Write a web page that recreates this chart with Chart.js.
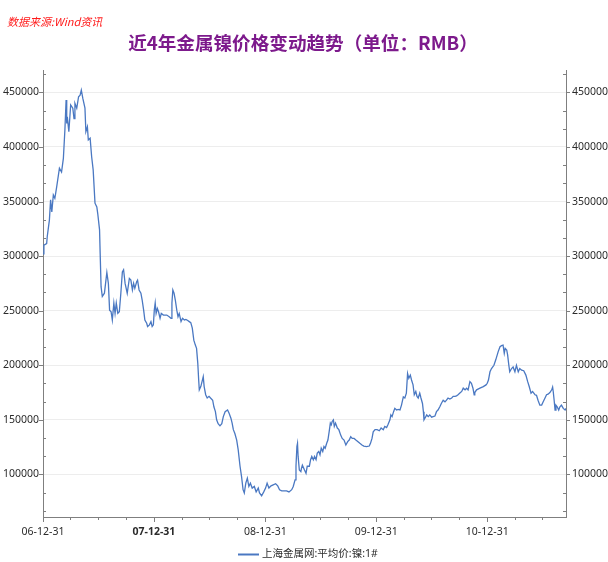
<!DOCTYPE html>
<html>
<head>
<meta charset="utf-8">
<title>镍价走势</title>
<script src="https://cdn.jsdelivr.net/npm/chart.js@4.4.0/dist/chart.umd.min.js"></script>
<style>
    html, body { margin: 0; padding: 0; background: #fff; }
    #wrap { position: relative; width: 608px; height: 562px; overflow: hidden; }
    #wrap canvas { position: absolute; left: 0; top: 0; }
    #source {
        position: absolute; left: 7px; top: 13px; line-height: 12px;
        font: italic 11px "Noto Sans CJK SC", sans-serif; color: #ff1a1a; white-space: nowrap;
    }
    #title {
        position: absolute; left: 0; width: 606px; top: 28px; line-height: 20px;
        text-align: center; font: bold 18.6px "Noto Sans CJK SC", sans-serif;
        color: #7d1a8c; white-space: nowrap;
    }
</style>
</head>
<body>
<div id="wrap">
    <canvas id="nickelChart" width="608" height="562"></canvas>
    <div id="source">数据来源:Wind资讯</div>
    <div id="title">近4年金属镍价格变动趋势（单位：RMB）</div>
</div>
<script>
    'use strict';

    // Shanghai Metals Market, nickel 1#, average price (RMB/t)
    const dates07 = ['2006-12-31','2007-01-03','2007-01-12','2007-01-14','2007-01-21','2007-01-25','2007-01-29','2007-02-03','2007-02-08','2007-02-14','2007-02-23','2007-03-02','2007-03-08','2007-03-13','2007-03-17','2007-03-19','2007-03-21','2007-03-26','2007-04-01','2007-04-08','2007-04-12','2007-04-15','2007-04-21','2007-04-27','2007-05-02','2007-05-06','2007-05-11','2007-05-18','2007-05-21','2007-05-26','2007-05-29','2007-06-04','2007-06-09','2007-06-14','2007-06-20','2007-06-26','2007-06-29','2007-07-05','2007-07-07','2007-07-10','2007-07-14','2007-07-21','2007-07-26','2007-07-29','2007-08-03','2007-08-07','2007-08-12','2007-08-16','2007-08-21','2007-08-25','2007-08-29','2007-09-03','2007-09-08','2007-09-13','2007-09-18','2007-09-22','2007-09-27','2007-10-04','2007-10-11','2007-10-16','2007-10-21','2007-10-25','2007-10-29','2007-11-04','2007-11-07','2007-11-12','2007-11-18','2007-11-22','2007-11-27','2007-12-01','2007-12-07','2007-12-10','2007-12-16','2007-12-21','2007-12-25','2007-12-29'];
    const prices07 = [302000,310000,311500,318000,333000,351500,340500,356000,353000,363500,380500,377000,389500,415500,443000,421500,427500,414000,438500,435500,426000,440000,435500,446000,447500,452000,444500,435500,414000,418500,406500,408000,391000,379000,348500,345000,339000,324000,302500,272000,263000,266000,278000,285000,275000,250500,249000,241500,257000,247500,257000,247500,249000,266000,285500,287500,275000,266000,279500,278000,269000,275000,270500,276500,278000,269000,266000,260000,250500,241500,238500,235500,237000,240000,235500,237000];

    const dates08 = ['2008-01-01','2008-01-04','2008-01-07','2008-01-11','2008-01-15','2008-01-20','2008-01-24','2008-01-31','2008-02-11','2008-02-19','2008-02-25','2008-02-28','2008-03-02','2008-03-06','2008-03-10','2008-03-15','2008-03-19','2008-03-23','2008-03-29','2008-04-03','2008-04-09','2008-04-14','2008-04-20','2008-04-25','2008-04-30','2008-05-05','2008-05-10','2008-05-15','2008-05-19','2008-05-23','2008-05-26','2008-05-28','2008-06-02','2008-06-06','2008-06-10','2008-06-13','2008-06-18','2008-06-23','2008-06-29','2008-07-04','2008-07-11','2008-07-15','2008-07-20','2008-07-24','2008-07-29','2008-08-04','2008-08-10','2008-08-15','2008-08-21','2008-08-29','2008-09-03','2008-09-09','2008-09-13','2008-09-17','2008-09-22','2008-09-28','2008-10-03','2008-10-09','2008-10-14','2008-10-19','2008-10-23','2008-10-28','2008-11-02','2008-11-07','2008-11-12','2008-11-18','2008-11-25','2008-12-01','2008-12-08','2008-12-12','2008-12-19','2008-12-26'];
    const prices08 = [250500,257000,247500,252000,249000,243000,247500,246000,246000,244500,243000,257000,269000,266000,260000,250500,244500,247500,240000,243000,241500,242000,241000,240000,239000,234000,223000,218500,215500,202000,186500,177500,180500,185000,189500,180500,173000,170000,171500,170000,168000,162000,157500,150000,146500,144500,146500,153000,157500,159000,156000,151500,147000,141000,137500,131500,122500,107500,98000,86000,83000,92000,96500,89000,92000,87500,89000,84000,87500,83000,80500,84000];

    const dates09 = ['2009-01-01','2009-01-06','2009-01-12','2009-01-19','2009-01-26','2009-02-03','2009-02-10','2009-02-16','2009-02-23','2009-03-03','2009-03-11','2009-03-19','2009-03-28','2009-04-02','2009-04-08','2009-04-11','2009-04-14','2009-04-16','2009-04-18','2009-04-22','2009-04-27','2009-04-29','2009-05-02','2009-05-09','2009-05-14','2009-05-18','2009-05-25','2009-05-29','2009-06-02','2009-06-07','2009-06-11','2009-06-16','2009-06-20','2009-06-25','2009-06-29','2009-07-03','2009-07-08','2009-07-12','2009-07-16','2009-07-21','2009-07-25','2009-07-29','2009-08-02','2009-08-05','2009-08-08','2009-08-12','2009-08-15','2009-08-19','2009-08-25','2009-08-30','2009-09-05','2009-09-10','2009-09-16','2009-09-22','2009-09-28','2009-10-03','2009-10-08','2009-10-13','2009-10-19','2009-10-25','2009-11-01','2009-11-07','2009-11-14','2009-11-20','2009-11-29','2009-12-08','2009-12-12','2009-12-17','2009-12-21','2009-12-27'];
    const prices09 = [87500,92000,87500,89500,90500,91500,89500,86000,85000,85000,85000,84000,86000,89000,95000,107500,125500,128500,116500,104000,102500,105500,108500,104000,101000,107500,107500,113500,116500,113500,116500,113500,119500,121000,118000,124000,121000,125500,124000,128500,131500,139000,147000,145500,148500,150000,144000,147000,142500,141000,136000,133000,131500,127000,130000,131500,134500,133000,133000,131500,130000,128500,127000,126000,125500,126000,128500,133000,139000,141000];

    const dates10 = ['2010-01-03','2010-01-10','2010-01-16','2010-01-23','2010-01-28','2010-02-03','2010-02-08','2010-02-14','2010-02-17','2010-02-21','2010-02-26','2010-03-02','2010-03-08','2010-03-13','2010-03-19','2010-03-24','2010-03-30','2010-04-04','2010-04-09','2010-04-13','2010-04-17','2010-04-22','2010-04-26','2010-05-01','2010-05-05','2010-05-10','2010-05-14','2010-05-18','2010-05-23','2010-05-27','2010-06-01','2010-06-04','2010-06-06','2010-06-09','2010-06-15','2010-06-20','2010-06-25','2010-07-01','2010-07-06','2010-07-12','2010-07-17','2010-07-22','2010-07-28','2010-08-02','2010-08-08','2010-08-14','2010-08-19','2010-08-24','2010-08-30','2010-09-05','2010-09-10','2010-09-16','2010-09-21','2010-09-26','2010-10-02','2010-10-08','2010-10-13','2010-10-19','2010-10-24','2010-10-29','2010-11-04','2010-11-09','2010-11-14','2010-11-18','2010-11-20','2010-11-26','2010-12-07','2010-12-18','2010-12-27','2010-12-31'];
    const prices10 = [141000,140000,142500,141000,144000,143000,146000,150000,154500,153000,157500,160500,159000,159500,159000,163500,171000,170000,174500,192500,188000,191000,186500,182000,173000,176000,171500,170000,174500,170000,165000,157500,150000,151500,154500,153000,154500,152500,153000,153500,157500,159000,162000,165000,168000,166500,168000,170000,169000,170000,171500,171500,172000,173000,174500,176000,179000,177500,179000,177500,185000,183500,179000,173000,175000,177500,179000,180500,182000,183500];

    const dates11 = ['2011-01-04','2011-01-09','2011-01-14','2011-01-22','2011-01-28','2011-02-05','2011-02-11','2011-02-16','2011-02-21','2011-02-25','2011-02-28','2011-03-05','2011-03-08','2011-03-12','2011-03-15','2011-03-21','2011-03-26','2011-04-01','2011-04-06','2011-04-12','2011-04-17','2011-04-23','2011-04-30','2011-05-07','2011-05-13','2011-05-18','2011-05-24','2011-05-29','2011-06-06','2011-06-11','2011-06-16','2011-06-22','2011-06-28','2011-07-03','2011-07-09','2011-07-14','2011-07-19','2011-07-25','2011-07-31','2011-08-03','2011-08-05','2011-08-08','2011-08-11','2011-08-14','2011-08-18','2011-08-23','2011-08-27','2011-09-01','2011-09-07','2011-09-13','2011-09-16'];
    const prices11 = [186500,194000,197000,200000,205000,212500,217000,218000,218500,211000,215500,214000,209500,200000,194000,197000,198500,194000,200000,194000,197000,195500,195000,191000,185000,180500,174500,176000,173000,172500,168000,163500,163500,166500,170000,173000,173500,175000,177500,180000,176000,168000,159000,163500,162000,159000,162000,163500,160500,159000,160500];

    // axis labels
    const xTickDates = ['2006-12-31','2007-12-31','2008-12-31','2009-12-31','2010-12-31'];
    const xTickLabels = ['06-12-31','07-12-31','08-12-31','09-12-31','10-12-31'];
    const yTickValues = [100000,150000,200000,250000,300000,350000,400000,450000];
    const seriesName = '上海金属网:平均价:镍:1#';

    const FONT = '"Noto Sans", "Noto Sans CJK SC", sans-serif';
    const LINE_COLOR = '#4a78c2';
    const AXIS_COLOR = '#7f7f7f';
    const TEXT_COLOR = '#2b2b2b';
    const X_END = '2011-09-16';
    const Y_MIN = 61000, Y_MAX = 470500;

    const ORIGIN = Date.UTC(2006, 11, 31);
    function dayOf(s) {
        const p = s.split('-');
        return Math.round((Date.UTC(+p[0], +p[1] - 1, +p[2]) - ORIGIN) / 86400000);
    }

    const allDates = [].concat(dates07, dates08, dates09, dates10, dates11);
    const allPrices = [].concat(prices07, prices08, prices09, prices10, prices11);
    const points = allDates.map(function(d, i) {
        return { x: dayOf(d), y: allPrices[i] };
    });

    const xMajor = xTickDates.map(dayOf);
    const xMax = dayOf(X_END);

    // quarter ends between the year marks
    const xMinor = [];
    for (let yr = 2007; yr <= 2011; yr++) {
        ['-03-31', '-06-30', '-09-30'].forEach(function(md) {
            const d = dayOf(yr + md);
            if (d <= xMax) xMinor.push(d);
        });
    }

    // two minor marks between every pair of labelled values
    const yStep = 50000 / 3;
    const yMinor = [];
    for (let v = yTickValues[0] - 2 * yStep; v <= Y_MAX; v += yStep) {
        if (v >= Y_MIN && yTickValues.indexOf(Math.round(v)) === -1) yMinor.push(v);
    }

    const tickMarks = {
        id: 'tickMarks',
        afterDraw: function(chart) {
            const ctx = chart.ctx;
            const area = chart.chartArea;
            const xs = chart.scales.x, ys = chart.scales.y;
            ctx.save();
            ctx.strokeStyle = AXIS_COLOR;
            ctx.lineWidth = 1;
            ctx.beginPath();
            xMajor.forEach(function(d) {
                const px = Math.round(xs.getPixelForValue(d)) + 0.5;
                ctx.moveTo(px, area.bottom); ctx.lineTo(px, area.bottom + 5);
            });
            xMinor.forEach(function(d) {
                const px = Math.round(xs.getPixelForValue(d)) + 0.5;
                ctx.moveTo(px, area.bottom); ctx.lineTo(px, area.bottom + 3);
            });
            yTickValues.forEach(function(v) {
                const py = Math.round(ys.getPixelForValue(v)) + 0.5;
                ctx.moveTo(area.left - 4, py); ctx.lineTo(area.left, py);
                ctx.moveTo(area.right, py); ctx.lineTo(area.right + 4, py);
            });
            yMinor.forEach(function(v) {
                const py = Math.round(ys.getPixelForValue(v)) + 0.5;
                ctx.moveTo(area.left, py); ctx.lineTo(area.left + 3, py);
                ctx.moveTo(area.right - 3, py); ctx.lineTo(area.right, py);
            });
            ctx.stroke();

            // legend
            const ly = 554.5;
            ctx.strokeStyle = LINE_COLOR;
            ctx.lineWidth = 2;
            ctx.beginPath();
            ctx.moveTo(238, ly); ctx.lineTo(259, ly);
            ctx.stroke();
            ctx.fillStyle = TEXT_COLOR;
            ctx.font = '10.5px ' + FONT;
            ctx.textBaseline = 'middle';
            ctx.textAlign = 'left';
            ctx.fillText(seriesName, 262, ly);
            ctx.restore();
        }
    };

    const tickFont = { family: FONT, size: 10.5 };

    new Chart(document.getElementById('nickelChart'), {
        type: 'line',
        data: {
            datasets: [{
                label: seriesName,
                data: points,
                borderColor: LINE_COLOR,
                borderWidth: 1.3,
                pointRadius: 0,
                tension: 0,
                fill: false
            }]
        },
        options: {
            responsive: false,
            animation: false,
            devicePixelRatio: 1,
            events: [],
            layout: { padding: { top: 70, left: 0, right: 0, bottom: 0 } },
            plugins: {
                legend: { display: false },
                title: { display: false },
                tooltip: { enabled: false }
            },
            scales: {
                x: {
                    type: 'linear',
                    min: 0,
                    max: xMax,
                    afterBuildTicks: function(scale) {
                        scale.ticks = xMajor.map(function(v) { return { value: v }; });
                    },
                    afterFit: function(scale) { scale.height = 45; },
                    grid: { display: false, drawTicks: false },
                    border: { color: AXIS_COLOR, width: 1 },
                    ticks: {
                        autoSkip: false,
                        maxRotation: 0,
                        padding: 9,
                        color: TEXT_COLOR,
                        font: function(ctx) {
                            return { family: FONT, size: 10.5, weight: ctx.index === 1 ? 'bold' : 'normal' };
                        },
                        callback: function(value, index) { return xTickLabels[index]; }
                    }
                },
                y: {
                    position: 'left',
                    min: Y_MIN,
                    max: Y_MAX,
                    afterBuildTicks: function(scale) {
                        scale.ticks = yTickValues.map(function(v) { return { value: v }; });
                    },
                    afterFit: function(scale) { scale.width = 43; },
                    grid: { color: '#ededed', lineWidth: 1, drawTicks: false },
                    border: { color: AXIS_COLOR, width: 1 },
                    ticks: {
                        padding: 4,
                        color: TEXT_COLOR,
                        font: tickFont,
                        callback: function(value) { return String(value); }
                    }
                },
                y2: {
                    position: 'right',
                    min: Y_MIN,
                    max: Y_MAX,
                    afterBuildTicks: function(scale) {
                        scale.ticks = yTickValues.map(function(v) { return { value: v }; });
                    },
                    afterFit: function(scale) { scale.width = 42; },
                    grid: { display: false, drawTicks: false },
                    border: { color: AXIS_COLOR, width: 1 },
                    ticks: {
                        padding: 6,
                        color: TEXT_COLOR,
                        font: tickFont,
                        callback: function(value) { return String(value); }
                    }
                }
            }
        },
        plugins: [tickMarks]
    });
</script>
</body>
</html>
